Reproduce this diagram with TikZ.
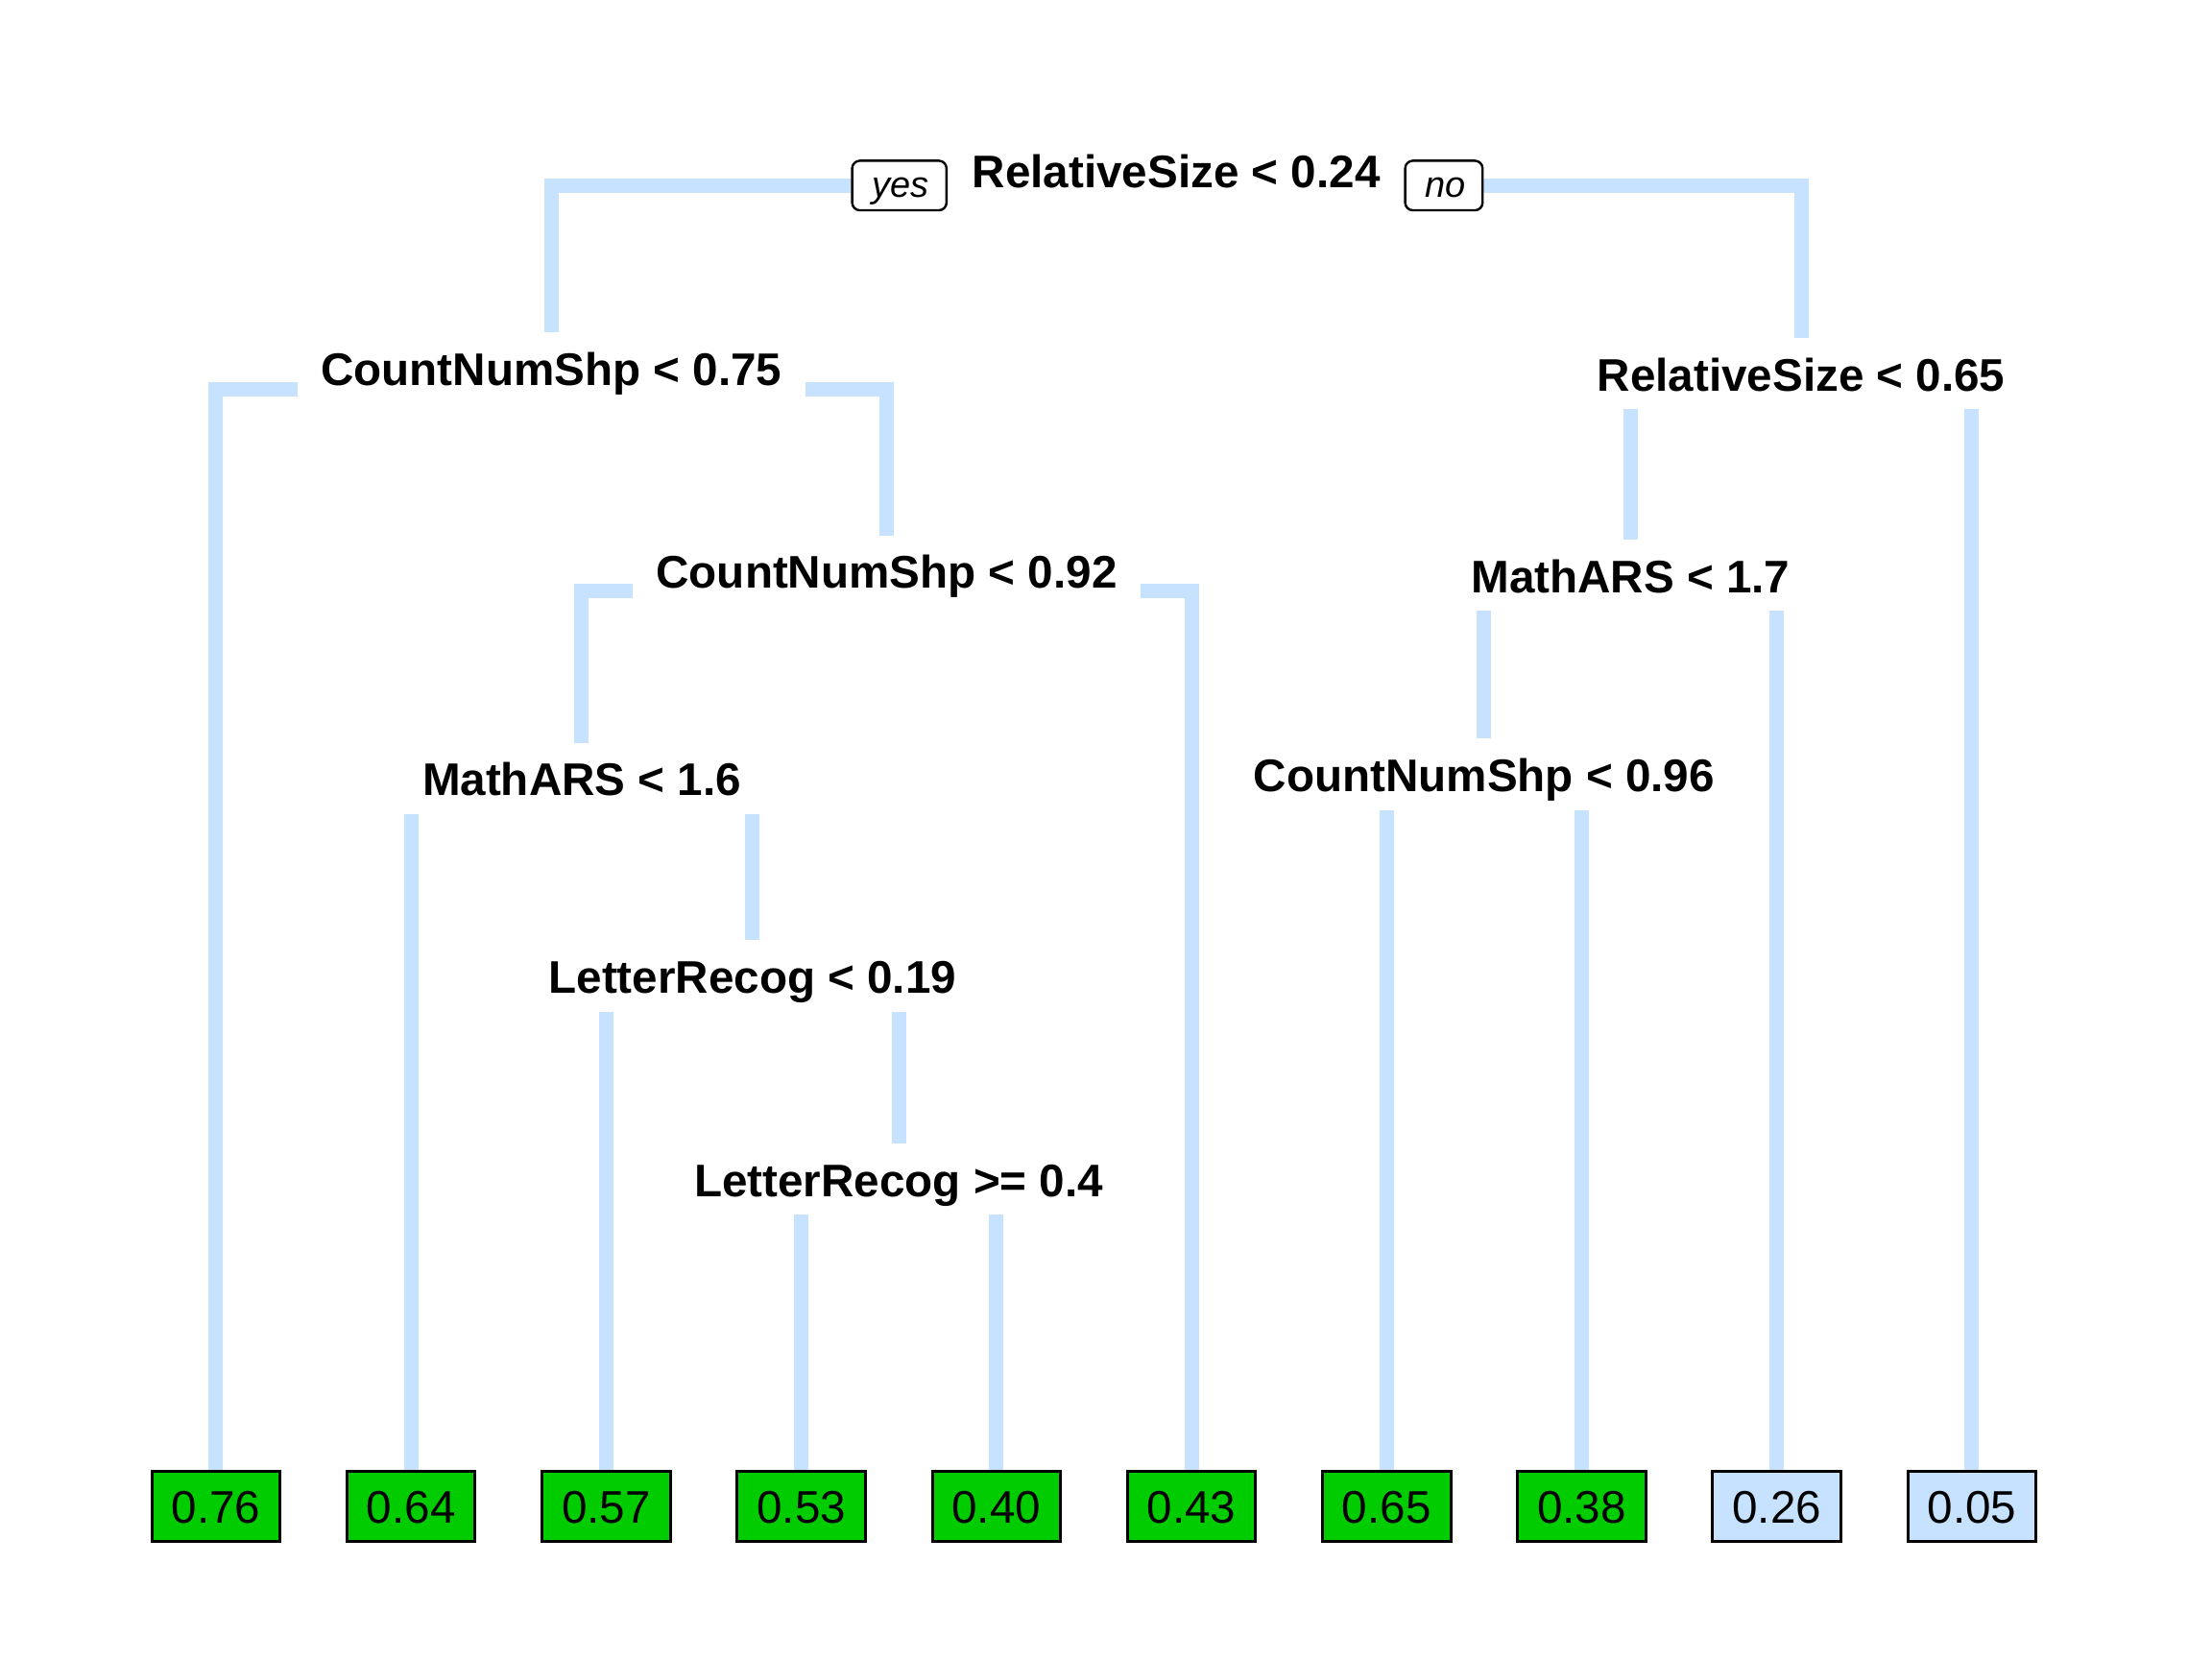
\documentclass[tikz,border=0pt]{standalone}
\usepackage{fontspec}
\setmainfont{Liberation Sans}
\usetikzlibrary{backgrounds}
\definecolor{branch}{RGB}{198,226,255}
\definecolor{leafgreen}{RGB}{0,204,0}
\begin{document}
\begin{tikzpicture}[x=0.36735pt,y=-0.36735pt,
  split/.style={anchor=base, font=\fontsize{11.9}{14}\selectfont\bfseries, inner xsep=5.9pt, inner ysep=0pt, text height=13.6pt, text depth=4.6pt},
  leafbox/.style={draw=black, line width=0.75pt, minimum width=33.4pt, minimum height=18.25pt, inner sep=0pt, font=\fontsize{11.9}{14}\selectfont, text height=8.6pt, text depth=0pt},
  gleaf/.style={leafbox, fill=leafgreen},
  bleaf/.style={leafbox, fill=branch},
  yn/.style={draw=black, line width=0.6pt, rounded corners=2pt, fill=white, font=\fontsize{9.5}{11}\selectfont\itshape, inner xsep=4.5pt, inner ysep=0pt, text height=8pt, text depth=2pt, minimum height=12.9pt},
  br/.style={draw=branch, line width=3.75pt}]
\useasboundingbox (0,0) rectangle (1568,1176);
% split labels
\node[split] (root) at (833.8,133) {RelativeSize < 0.24};
\node[yn] (yes) at (637.5,131.5) {\hspace{0.8pt}yes};
\node[yn] (no) at (1023.5,131.5) {\hspace{0.6pt}no};
\node[split] (n1) at (390.8,273) {CountNumShp < 0.75};
\node[split] (n6) at (1276.8,277) {RelativeSize < 0.65};
\node[split] (n2) at (628.5,417) {CountNumShp < 0.92};
\node[split] (n7) at (1155.8,420) {MathARS < 1.7};
\node[split] (n3) at (412.4,564) {MathARS < 1.6};
\node[split] (n8) at (1052.05,561) {CountNumShp < 0.96};
\node[split] (n4) at (533.4,704) {LetterRecog < 0.19};
\node[split] (n5) at (637.15,848) {LetterRecog >= 0.4};
% leaves
\node[gleaf] (l0) at (153.1,1068) {0.76};
\node[gleaf] (l1) at (291.4,1068) {0.64};
\node[gleaf] (l2) at (429.7,1068) {0.57};
\node[gleaf] (l3) at (568.0,1068) {0.53};
\node[gleaf] (l4) at (706.3,1068) {0.40};
\node[gleaf] (l5) at (844.6,1068) {0.43};
\node[gleaf] (l6) at (982.9,1068) {0.65};
\node[gleaf] (l7) at (1121.2,1068) {0.38};
\node[bleaf] (l8) at (1259.5,1068) {0.26};
\node[bleaf] (l9) at (1397.8,1068) {0.05};
% branches
\begin{pgfonlayer}{background}
\draw[br] (yes.west) -| (n1.north);
\draw[br] (no.east) -| (n6.north);
\draw[br] ([yshift=-1.1pt]n1.base west) -| (l0.north);
\draw[br] ([yshift=-1.1pt]n1.base east) -| (n2.north);
\draw[br] (n6.south -| n7.north) -- (n7.north);
\draw[br] (n6.south -| l9.north) -- (l9.north);
\draw[br] ([yshift=-0.7pt]n2.base west) -| (n3.north);
\draw[br] ([yshift=-0.7pt]n2.base east) -| (l5.north);
\draw[br] (n7.south -| n8.north) -- (n8.north);
\draw[br] (n7.south -| l8.north) -- (l8.north);
\draw[br] (n3.south -| l1.north) -- (l1.north);
\draw[br] (n3.south -| n4.north) -- (n4.north);
\draw[br] (n8.south -| l6.north) -- (l6.north);
\draw[br] (n8.south -| l7.north) -- (l7.north);
\draw[br] (n4.south -| l2.north) -- (l2.north);
\draw[br] (n4.south -| n5.north) -- (n5.north);
\draw[br] (n5.south -| l3.north) -- (l3.north);
\draw[br] (n5.south -| l4.north) -- (l4.north);
\end{pgfonlayer}
\end{tikzpicture}
\end{document}
